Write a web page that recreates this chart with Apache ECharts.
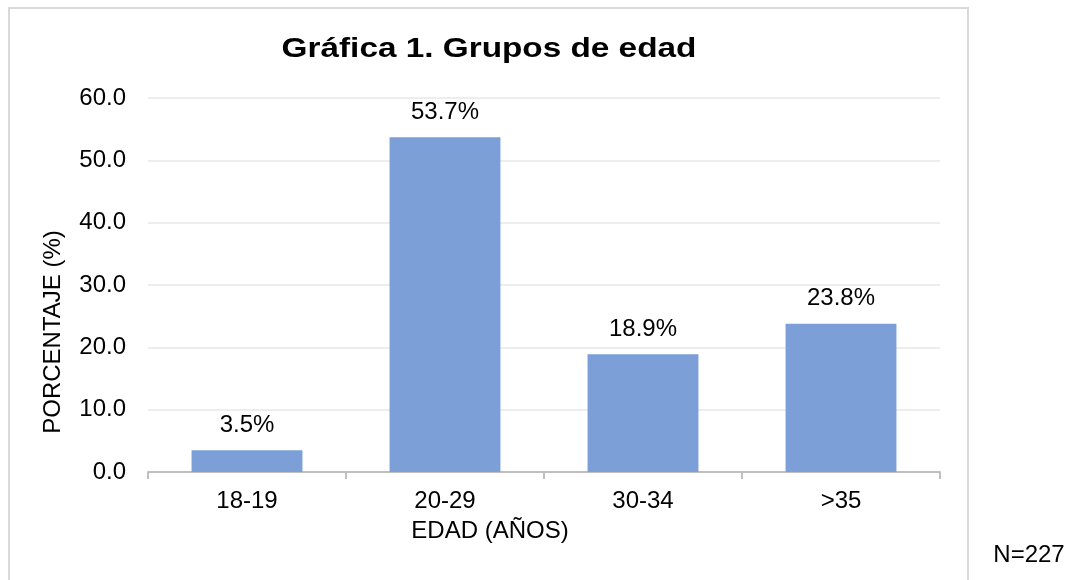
<!DOCTYPE html>
<html>
<head>
<meta charset="UTF-8">
<title>Gráfica 1</title>
<script src="https://cdn.jsdelivr.net/npm/echarts@6/dist/echarts.min.js"></script>
<style>
  html, body { margin: 0; padding: 0; background: #fff; }
  #main { width: 1073px; height: 580px; }
</style>
</head>
<body>
<div id="main"></div>
<script>
  // datos
  var categorias = ['18-19', '20-29', '30-34', '>35'];
  var porcentajes = [3.5, 53.7, 18.9, 23.8];
  var ejeY = { min: 0, max: 60, intervalo: 10 };

  var myChart = echarts.init(document.getElementById('main'));
  var fuente = '"Liberation Sans", Arial, sans-serif';

  myChart.setOption({
    animation: false,
    textStyle: { fontFamily: fuente },
    grid: { left: 148, right: 133, top: 98, bottom: 108, containLabel: false },
    xAxis: {
      type: 'category',
      data: categorias,
      axisLine: { lineStyle: { color: '#bfbfbf', width: 2 } },
      axisTick: { show: true, length: 7, lineStyle: { color: '#bfbfbf', width: 2 } },
      axisLabel: { color: '#000', fontSize: 24, margin: 17, fontFamily: fuente }
    },
    yAxis: {
      type: 'value',
      min: ejeY.min,
      max: ejeY.max,
      interval: ejeY.intervalo,
      axisLine: { show: false },
      axisTick: { show: false },
      splitLine: { lineStyle: { color: '#ededed', width: 2 } },
      axisLabel: {
        color: '#000', fontSize: 24, margin: 22, fontFamily: fuente,
        formatter: function (v) { return v.toFixed(1); }
      }
    },
    series: [{
      type: 'bar',
      data: porcentajes,
      barCategoryGap: '44%',
      itemStyle: { color: '#7b9fd6' },
      label: {
        show: true,
        position: 'top',
        distance: 13,
        color: '#000',
        fontSize: 24,
        fontFamily: fuente,
        formatter: function (p) { return p.value.toFixed(1) + '%'; }
      }
    }],
    graphic: [
      {
        type: 'rect',
        shape: { x: 9, y: 8, width: 959, height: 620 },
        style: { fill: 'none', stroke: '#d9d9d9', lineWidth: 2 },
        silent: true
      },
      {
        type: 'text',
        x: 489, y: 49,
        scaleX: 1.19,
        style: { text: 'Gráfica 1. Grupos de edad', fill: '#000', font: 'bold 28px ' + fuente, textAlign: 'center', textVerticalAlign: 'middle' }
      },
      {
        type: 'text',
        x: 53, y: 332,
        rotation: Math.PI / 2,
        style: { text: 'PORCENTAJE (%)', fill: '#000', font: '24px ' + fuente, textAlign: 'center', textVerticalAlign: 'middle' }
      },
      {
        type: 'text',
        x: 490, y: 531,
        style: { text: 'EDAD (AÑOS)', fill: '#000', font: '24px ' + fuente, textAlign: 'center', textVerticalAlign: 'middle' }
      },
      {
        type: 'text',
        x: 1029, y: 555,
        style: { text: 'N=227', fill: '#000', font: '24px ' + fuente, textAlign: 'center', textVerticalAlign: 'middle' }
      }
    ]
  });
</script>
</body>
</html>
